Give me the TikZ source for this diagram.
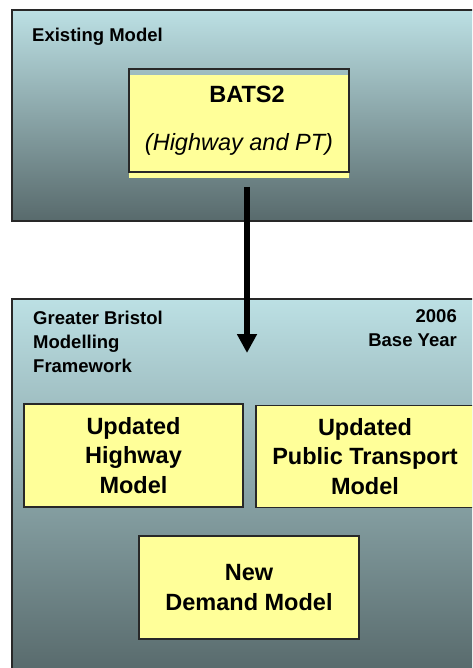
\documentclass[tikz,border=0pt]{standalone}
\usepackage{fontspec}
\setmainfont{Liberation Sans}
\usetikzlibrary{arrows.meta}
\definecolor{panelTop}{RGB}{188,224,228}
\definecolor{panelBot}{RGB}{88,106,108}
\definecolor{boxYellow}{RGB}{255,255,153}
\definecolor{edgeGrey}{RGB}{40,40,40}
\begin{document}
\begin{tikzpicture}[x=1pt,y=-1pt,
  panel/.style={top color=panelTop,bottom color=panelBot,draw=edgeGrey,line width=1.2pt},
  modelbox/.style={draw=edgeGrey,line width=1.2pt,fill=boxYellow,align=center,inner sep=0pt,
    font=\fontsize{23.5}{29.5}\selectfont\bfseries},
  heading/.style={inner sep=0pt,font=\fontsize{18.5}{24}\selectfont\bfseries},
  feed/.style={line width=6.5pt,-{Triangle[width=19pt,length=19pt]}}]
\clip (0,0) rectangle (472,668);
\fill[white] (0,0) rectangle (472,668);
\shade[panel] (12,10) rectangle (480,221);
\shade[panel] (12,299) rectangle (480,672);
\node[heading,anchor=base west] (existing) at (32,41.5) {Existing Model};
\node[heading,anchor=north west,align=left] (gbmf) at (33,311) {Greater Bristol\\Modelling\\Framework};
\node[heading,anchor=north east,align=right] (baseyr) at (457,309) {2006\\Base Year};
\fill[boxYellow] (129,75) rectangle (349,178);
\node[modelbox,fill=none,minimum width=220pt,minimum height=103pt] (bats) at (239,120.5)
  {\hspace*{16pt}BATS2\\[18.5pt]\normalfont\itshape (Highway and PT)};
\foreach \nm/\cx/\cy/\w/\h/\txt in {hwy/133.5/455.5/219/103/{Updated\\Highway\\Model},
    pt/365/456.5/218/102/{Updated\\Public Transport\\Model},
    dem/249/587.5/220/103/{New\\Demand Model}}
  {\node[modelbox,minimum width=\w pt,minimum height=\h pt] (\nm) at (\cx,\cy) {\txt};}
\coordinate (feedTop) at (247,187);
\coordinate (feedTip) at (247,353);
\draw[feed] (feedTop) -- (feedTip);
\end{tikzpicture}
\end{document}
